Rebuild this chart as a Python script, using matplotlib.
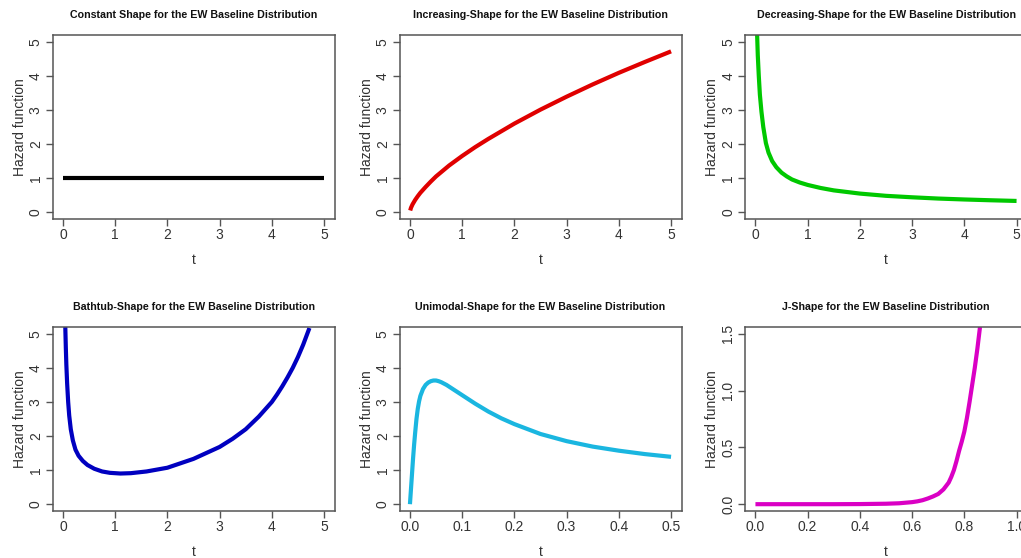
import matplotlib
matplotlib.use("Agg")
import matplotlib.pyplot as plt

# ---------------- data ----------------
titles = [
    "Constant Shape for the EW Baseline Distribution",
    "Increasing-Shape for the EW Baseline Distribution",
    "Decreasing-Shape for the EW Baseline Distribution",
    "Bathtub-Shape for the EW Baseline Distribution",
    "Unimodal-Shape for the EW Baseline Distribution",
    "J-Shape for the EW Baseline Distribution",
]
colors = ["#000000", "#E00000", "#00C800", "#0000C0", "#1AB6E0", "#DA00C4"]
x_label = "t"
y_label = "Hazard function"

t_constant = [0.0, 5.0]
h_constant = [1.0, 1.0]

t_increasing = [0.005, 0.02, 0.05, 0.1, 0.15, 0.2, 0.3, 0.4, 0.5, 0.75, 1.0, 1.25, 1.5, 2.0, 2.5, 3.0,
                3.5, 4.0, 4.5, 5.0]
h_increasing = [0.05, 0.13, 0.23, 0.36, 0.47, 0.57, 0.74, 0.90, 1.05, 1.37, 1.65, 1.91, 2.15, 2.60, 3.01,
                3.39, 3.75, 4.09, 4.41, 4.72]

t_decreasing = [0.03, 0.045, 0.064, 0.085, 0.115, 0.15, 0.2, 0.25, 0.32, 0.4, 0.5, 0.6, 0.7, 0.85, 1.0,
                1.25, 1.5, 2.0, 2.5, 3.0, 3.5, 4.0, 4.5, 5.0]
h_decreasing = [5.3, 4.6, 4.0, 3.45, 2.95, 2.5, 2.03, 1.75, 1.5, 1.32, 1.16, 1.05, 0.96, 0.87, 0.8,
                0.71, 0.64, 0.546, 0.48, 0.437, 0.4, 0.373, 0.35, 0.33]

t_bathtub = [0.045, 0.055, 0.065, 0.08, 0.1, 0.12, 0.15, 0.19, 0.24, 0.3, 0.38, 0.47, 0.6, 0.75, 0.9,
             1.1, 1.3, 1.6, 2.0, 2.5, 3.0, 3.25, 3.5, 3.75, 4.0, 4.1, 4.2, 4.3, 4.4, 4.5, 4.6, 4.72]
h_bathtub = [5.2, 4.6, 4.1, 3.55, 3.0, 2.6, 2.2, 1.87, 1.6, 1.42, 1.27, 1.15, 1.04, 0.96, 0.92,
             0.9, 0.91, 0.96, 1.07, 1.33, 1.68, 1.92, 2.2, 2.57, 3.0, 3.22, 3.46, 3.72, 4.0, 4.32, 4.68, 5.17]

t_unimodal = [0.0, 0.002, 0.004, 0.006, 0.008, 0.01, 0.0125, 0.015, 0.0175, 0.02, 0.025, 0.03, 0.035,
              0.04, 0.045, 0.05, 0.055, 0.06, 0.07, 0.08, 0.09, 0.1, 0.125, 0.15, 0.175, 0.2, 0.25,
              0.3, 0.35, 0.4, 0.45, 0.5]
h_unimodal = [0.0, 0.45, 0.9, 1.35, 1.75, 2.1, 2.5, 2.8, 3.02, 3.18, 3.38, 3.5, 3.57,
              3.61, 3.63, 3.63, 3.61, 3.58, 3.5, 3.4, 3.3, 3.2, 2.95, 2.72, 2.52, 2.35, 2.06,
              1.85, 1.69, 1.57, 1.47, 1.39]

t_j = [0.0, 0.1, 0.2, 0.3, 0.4, 0.5, 0.55, 0.6, 0.62, 0.64, 0.66, 0.68, 0.7, 0.71, 0.72, 0.73, 0.74,
       0.75, 0.76, 0.77, 0.78, 0.79, 0.8, 0.81, 0.82, 0.83, 0.84, 0.85, 0.86]
h_j = [0.0, 0.0, 0.0, 0.0, 0.001, 0.004, 0.008, 0.018, 0.025, 0.035, 0.05, 0.068, 0.09, 0.11, 0.13,
       0.16, 0.19, 0.24, 0.3, 0.38, 0.47, 0.55, 0.64, 0.76, 0.9, 1.05, 1.2, 1.37, 1.56]

series_t = [t_constant, t_increasing, t_decreasing, t_bathtub, t_unimodal, t_j]
series_h = [h_constant, h_increasing, h_decreasing, h_bathtub, h_unimodal, h_j]

x_ranges = [(0, 5), (0, 5), (0, 5), (0, 5), (0, 0.5), (0, 1)]
y_ranges = [(0, 5), (0, 5), (0, 5), (0, 5), (0, 5), (0, 1.5)]
x_ticks = [[0, 1, 2, 3, 4, 5]] * 4 + [[0.0, 0.1, 0.2, 0.3, 0.4, 0.5], [0.0, 0.2, 0.4, 0.6, 0.8, 1.0]]
x_ticklabels = [["0", "1", "2", "3", "4", "5"]] * 4 + [["0.0", "0.1", "0.2", "0.3", "0.4", "0.5"],
                                                     ["0.0", "0.2", "0.4", "0.6", "0.8", "1.0"]]
y_ticks = [[0, 1, 2, 3, 4, 5]] * 5 + [[0.0, 0.5, 1.0, 1.5]]
y_ticklabels = [["0", "1", "2", "3", "4", "5"]] * 5 + [["0.0", "0.5", "1.0", "1.5"]]

# ---------------- style ----------------
title_family = ["Liberation Sans Narrow", "Liberation Sans", "DejaVu Sans"]
body_family = ["Liberation Sans", "DejaVu Sans"]
plt.rcParams["font.family"] = body_family

W, H, DPI = 1021, 558, 100
fig = plt.figure(figsize=(W / DPI, H / DPI), dpi=DPI)
fig.patch.set_facecolor("white")

col_left = [52.5, 399.5, 745.0]
row_top = [35.0, 327.0]
ax_w, ax_h = 282.0, 184.0

txt_col = "#333333"
spine_col = "#555555"
fs = 10.0

for i in range(6):
    r, c = divmod(i, 3)
    left = col_left[c] / W
    bottom = 1 - (row_top[r] + ax_h) / H
    ax = fig.add_axes([left, bottom, ax_w / W, ax_h / H])
    x0, x1 = x_ranges[i]
    y0, y1 = y_ranges[i]
    dx, dy = (x1 - x0) * 0.04, (y1 - y0) * 0.04
    ax.set_xlim(x0 - dx, x1 + dx)
    ax.set_ylim(y0 - dy, y1 + dy)
    ax.plot(series_t[i], series_h[i], color=colors[i], lw=3.0, solid_capstyle="butt",
            solid_joinstyle="round")
    ax.set_xticks(x_ticks[i])
    ax.set_xticklabels(x_ticklabels[i], fontsize=fs, color=txt_col)
    ax.set_yticks(y_ticks[i])
    ax.set_yticklabels(y_ticklabels[i], fontsize=fs, color=txt_col, rotation=90, va="center")
    ax.tick_params(axis="both", length=5, width=1.0, color=spine_col)
    ax.tick_params(axis="x", pad=1.5)
    ax.tick_params(axis="y", pad=2.0)
    for s in ax.spines.values():
        s.set_color(spine_col)
        s.set_linewidth(1.1)
    ax.text(0.5, -41.0 / ax_h, x_label, transform=ax.transAxes, ha="center", va="center",
            fontsize=fs, color=txt_col)
    ax.text(-32.5 / ax_w, 0.5, y_label, transform=ax.transAxes, ha="center", va="center",
            rotation=90, fontsize=fs, color=txt_col)
    ax.text(0.5, 1 + 20.0 / ax_h, titles[i], transform=ax.transAxes, ha="center", va="center",
            fontsize=7.7, fontweight="bold", family=title_family, color="#111111")

fig.savefig("out.png", dpi=DPI, facecolor="white")
